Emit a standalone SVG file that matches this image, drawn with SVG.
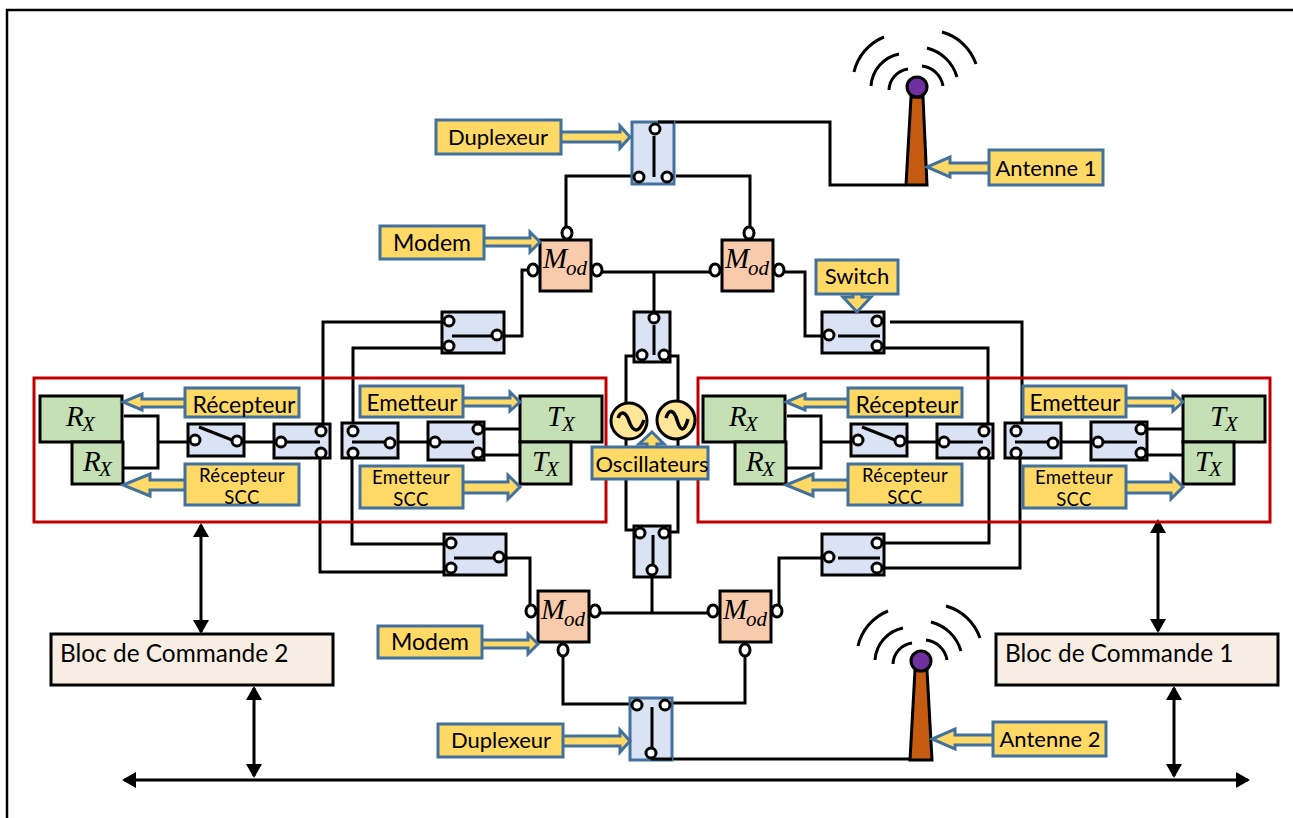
<svg xmlns="http://www.w3.org/2000/svg" width="1293" height="818" viewBox="0 0 1293 818">
<style>
text{font-family:Lato,"Open Sans",sans-serif;fill:#000;text-anchor:middle}
.l{font-size:22px}.r{font-size:23px}.e{font-size:22.5px}.mo{font-size:23px}.s{font-size:18.5px;letter-spacing:.35px}.b{font-size:24.4px;text-anchor:start}
.m{font-family:"Liberation Serif",serif;font-style:italic;text-anchor:start}
.m1{font-size:29px}.m2{font-size:21px}
.w{fill:none;stroke:#000;stroke-width:3}
.sin{fill:none;stroke:#000;stroke-width:3.5}
.sw{fill:#dae3f3;stroke:#000;stroke-width:3}
.dup{fill:#dae3f3;stroke:#41719c;stroke-width:3}
.c{fill:#fff;stroke:#000;stroke-width:3}
.lb{fill:#ffd966;stroke:#41719c;stroke-width:3}
.rx{fill:#c5e0b4;stroke:#000;stroke-width:3}
.mod{fill:#f8cbad;stroke:#000;stroke-width:3}
.bl{fill:#f8ede3;stroke:#000;stroke-width:3}
.red{fill:none;stroke:#c00000;stroke-width:3}
.osc{fill:#ffe699;stroke:#000;stroke-width:3}
.arc{fill:none;stroke:#000;stroke-width:3}
.tw{fill:#c55a11;stroke:#000;stroke-width:3}
.pu{fill:#7030a0;stroke:#000;stroke-width:3}
.ah{fill:none;stroke:#000;stroke-width:3;marker-start:url(#a);marker-end:url(#a)}
</style>
<defs>
<marker id="a" markerUnits="userSpaceOnUse" markerWidth="16" markerHeight="16" refX="12" refY="8" orient="auto-start-reverse"><path d="M0 0L14 8L0 16Z" fill="#000"/></marker>
<g id="antw"><path class="arc" d="M-9 -18A22 22 0 0 0 -28 3M-18 -33A35 35 0 0 0 -46 -1M-33 -50A50 50 0 0 0 -63 -15"/><path class="arc" d="M5 -21A24 24 0 0 1 26 -1M10 -39A42 42 0 0 1 40 -10M25 -55A50 50 0 0 1 59 -23"/></g>
</defs>
<rect x="7" y="10" width="1300" height="830" fill="#fff" stroke="#000" stroke-width="2.5"/>

<g id="connectors">
<path class="w" d="M674 122H830V185H905M632 176H566V229M676 176H750V229M602 272H710M654 272V312M785 272H805V336H822M528 270H522V336H504M442 322H323V424M442 348H353V424M444 544H352V458M444 572H320V458M506 558H530V605"/>
<path class="w" d="M890 322H1022V424M884 348H988V424M884 543H989V458M884 568H1020V458M822 558H779V605M634 356H626V404M670 356H678V403M626 438V530H634M678 438V532H670M652 577V613M600 613H708M563 656V704H630M745 656V703H672M672 759H910"/>
<path class="w" d="M124 416H158V468H123M158 442H188M244 442H274M398 442H428M484 429H520M484 455H520"/>
<path class="w" d="M787 416H821V468H786M821 442H851M907 442H937M1061 442H1091M1147 429H1183M1147 455H1183"/>
<path class="ah" d="M201 525V632"/><path class="ah" d="M254 688V776"/><path class="ah" d="M1158 521V631"/><path class="ah" d="M1174 688V776"/><path class="ah" d="M124 780H1248"/>
</g>

<g id="frame-left"><rect class="red" x="34" y="378" width="572" height="144"/></g>
<g id="frame-right"><rect class="red" x="698" y="378" width="572" height="144"/></g>

<g id="duplexeur-1"><rect class="dup" x="632" y="122" width="42" height="62"/><path class="w" d="M654 136V177M658 122H674"/><circle class="c" cx="655" cy="129" r="5"/><circle class="c" cx="639" cy="177" r="5"/><circle class="c" cx="667" cy="177" r="5"/></g>
<g id="duplexeur-2"><rect class="dup" x="630" y="698" width="42" height="62"/><path class="w" d="M652 707V753M651 759H672"/><circle class="c" cx="637" cy="705" r="5"/><circle class="c" cx="665" cy="705" r="5"/><circle class="c" cx="651" cy="753" r="5"/></g>

<g id="mod-1"><rect class="mod" x="540" y="240" width="51" height="51"/><text class="m m1" x="543" y="268">M</text><text class="m m2" x="566" y="275">od</text><ellipse class="c" cx="567" cy="233" rx="5" ry="6"/><ellipse class="c" cx="533" cy="270" rx="5" ry="6"/><ellipse class="c" cx="597" cy="270" rx="5" ry="6"/></g>
<g id="mod-2"><rect class="mod" x="722" y="240" width="51" height="51"/><text class="m m1" x="725" y="268">M</text><text class="m m2" x="748" y="275">od</text><ellipse class="c" cx="749" cy="233" rx="5" ry="6"/><ellipse class="c" cx="715" cy="270" rx="5" ry="6"/><ellipse class="c" cx="779" cy="270" rx="5" ry="6"/></g>
<g id="mod-3"><rect class="mod" x="538" y="591" width="51" height="51"/><text class="m m1" x="541" y="619">M</text><text class="m m2" x="564" y="626">od</text><ellipse class="c" cx="563" cy="650" rx="5" ry="6"/><ellipse class="c" cx="531" cy="611" rx="5" ry="6"/><ellipse class="c" cx="595" cy="611" rx="5" ry="6"/></g>
<g id="mod-4"><rect class="mod" x="720" y="591" width="51" height="51"/><text class="m m1" x="723" y="619">M</text><text class="m m2" x="746" y="626">od</text><ellipse class="c" cx="745" cy="650" rx="5" ry="6"/><ellipse class="c" cx="713" cy="611" rx="5" ry="6"/><ellipse class="c" cx="777" cy="611" rx="5" ry="6"/></g>

<g id="sw-top-left"><rect class="sw" x="442" y="312" width="62" height="41"/><path class="w" d="M452 336H492"/><circle class="c" cx="449" cy="321" r="5"/><circle class="c" cx="449" cy="346" r="5"/><circle class="c" cx="497" cy="335" r="5"/></g>
<g id="sw-bottom-left"><rect class="sw" x="444" y="534" width="62" height="41"/><path class="w" d="M454 558H494"/><circle class="c" cx="451" cy="543" r="5"/><circle class="c" cx="451" cy="568" r="5"/><circle class="c" cx="499" cy="557" r="5"/></g>
<g id="sw-top-right"><rect class="sw" x="822" y="312" width="62" height="41"/><path class="w" d="M838 336H880"/><circle class="c" cx="829" cy="335" r="5"/><circle class="c" cx="877" cy="321" r="5"/><circle class="c" cx="877" cy="346" r="5"/></g>
<g id="sw-bottom-right"><rect class="sw" x="822" y="534" width="62" height="41"/><path class="w" d="M838 558H880"/><circle class="c" cx="829" cy="557" r="5"/><circle class="c" cx="877" cy="543" r="5"/><circle class="c" cx="877" cy="568" r="5"/></g>
<g id="sw-osc-top"><rect class="sw" x="634" y="312" width="36" height="50"/><path class="w" d="M654 325V355"/><circle class="c" cx="654" cy="318" r="5"/><circle class="c" cx="642" cy="355" r="5"/><circle class="c" cx="664" cy="355" r="5"/></g>
<g id="sw-osc-bottom"><rect class="sw" x="634" y="526" width="36" height="51"/><path class="w" d="M653 535V570"/><circle class="c" cx="640" cy="533" r="5"/><circle class="c" cx="664" cy="533" r="5"/><circle class="c" cx="652" cy="570" r="5"/></g>

<g id="chain-left">
<g id="rx-a"><rect class="rx" x="40" y="396" width="82" height="46"/><text class="m m1" x="66" y="426">R</text><text class="m m2" x="82" y="431">X</text></g>
<g id="rx-b"><rect class="rx" x="72" y="442" width="51" height="42"/><text class="m m1" x="83" y="471">R</text><text class="m m2" x="99" y="476">X</text></g>
<g id="tx-a"><rect class="rx" x="520" y="396" width="82" height="46"/><text class="m m1" x="547" y="426">T</text><text class="m m2" x="562" y="431">X</text></g>
<g id="tx-b"><rect class="rx" x="520" y="442" width="51" height="42"/><text class="m m1" x="532" y="471">T</text><text class="m m2" x="546" y="476">X</text></g>
<g id="sw-l1"><rect class="sw" x="188" y="424" width="56" height="32"/><path class="w" d="M199 427L232 440"/><circle class="c" cx="195" cy="440" r="5"/><circle class="c" cx="237" cy="441" r="5"/></g>
<g id="sw-l2"><rect class="sw" x="274" y="424" width="56" height="34"/><path class="w" d="M285 442H320"/><circle class="c" cx="281" cy="442" r="5"/><circle class="c" cx="321" cy="431" r="5"/><circle class="c" cx="321" cy="453" r="5"/></g>
<g id="sw-l3"><rect class="sw" x="342" y="423" width="56" height="35"/><path class="w" d="M352 442H385"/><circle class="c" cx="353" cy="431" r="5"/><circle class="c" cx="353" cy="453" r="5"/><circle class="c" cx="390" cy="443" r="5"/></g>
<g id="sw-l4"><rect class="sw" x="428" y="422" width="56" height="38"/><path class="w" d="M440 442H474"/><circle class="c" cx="435" cy="442" r="5"/><circle class="c" cx="478" cy="429" r="5"/><circle class="c" cx="478" cy="453" r="5"/></g>
</g>
<g id="chain-right" transform="translate(663 0)">
<g id="rx-c"><rect class="rx" x="40" y="396" width="82" height="46"/><text class="m m1" x="66" y="426">R</text><text class="m m2" x="82" y="431">X</text></g>
<g id="rx-d"><rect class="rx" x="72" y="442" width="51" height="42"/><text class="m m1" x="83" y="471">R</text><text class="m m2" x="99" y="476">X</text></g>
<g id="tx-c"><rect class="rx" x="520" y="396" width="82" height="46"/><text class="m m1" x="547" y="426">T</text><text class="m m2" x="562" y="431">X</text></g>
<g id="tx-d"><rect class="rx" x="520" y="442" width="51" height="42"/><text class="m m1" x="532" y="471">T</text><text class="m m2" x="546" y="476">X</text></g>
<g id="sw-r1"><rect class="sw" x="188" y="424" width="56" height="32"/><path class="w" d="M199 427L232 440"/><circle class="c" cx="195" cy="440" r="5"/><circle class="c" cx="237" cy="441" r="5"/></g>
<g id="sw-r2"><rect class="sw" x="274" y="424" width="56" height="34"/><path class="w" d="M285 442H320"/><circle class="c" cx="281" cy="442" r="5"/><circle class="c" cx="321" cy="431" r="5"/><circle class="c" cx="321" cy="453" r="5"/></g>
<g id="sw-r3"><rect class="sw" x="342" y="423" width="56" height="35"/><path class="w" d="M352 442H385"/><circle class="c" cx="353" cy="431" r="5"/><circle class="c" cx="353" cy="453" r="5"/><circle class="c" cx="390" cy="443" r="5"/></g>
<g id="sw-r4"><rect class="sw" x="428" y="422" width="56" height="38"/><path class="w" d="M440 442H474"/><circle class="c" cx="435" cy="442" r="5"/><circle class="c" cx="478" cy="429" r="5"/><circle class="c" cx="478" cy="453" r="5"/></g>
</g>

<g id="oscillateur-1"><circle class="osc" cx="629" cy="421" r="18"/><path class="sin" d="M618 418C621 410 626 412 629 421S638 436 644 420"/></g>
<g id="oscillateur-2"><circle class="osc" cx="676" cy="420" r="19"/><path class="sin" d="M666 418C669 408 674 410 677 420S684 434 688 419"/></g>

<g id="antenne-1"><use href="#antw" x="917" y="87"/><path class="tw" d="M911 97H923L927 185H906Z"/><circle class="pu" cx="917" cy="87" r="10"/></g>
<g id="antenne-2"><use href="#antw" x="921" y="661"/><path class="tw" d="M915 670H927L932 760H910Z"/><circle class="pu" cx="921" cy="661" r="10"/></g>

<g id="lb-duplexeur-1"><path class="lb" d="M560 132H620V126L630 137L620 148V142H560Z"/><rect class="lb" x="436" y="120" width="125" height="34"/><text class="l" x="498" y="145">Duplexeur</text></g>
<g id="lb-duplexeur-2"><path class="lb" d="M560 736H620V730L630 741L620 752V746H560Z"/><rect class="lb" x="438" y="724" width="125" height="33"/><text class="l" x="501" y="748">Duplexeur</text></g>
<g id="lb-modem-1"><path class="lb" d="M483 238H530V232L540 242L530 252V246H483Z"/><rect class="lb" x="380" y="226" width="104" height="33"/><text class="mo" x="432" y="251">Modem</text></g>
<g id="lb-modem-2"><path class="lb" d="M481 640H528V634L538 644L528 654V648H481Z"/><rect class="lb" x="378" y="626" width="104" height="32"/><text class="mo" x="430" y="650">Modem</text></g>
<g id="lb-switch"><path class="lb" d="M853 293V297H843L857 312L871 297H862V293Z"/><rect class="lb" x="816" y="260" width="82" height="34"/><text class="l" x="857" y="284">Switch</text></g>
<g id="lb-antenne-1"><path class="lb" d="M992 163H950V157L927 167L950 177V173H992Z"/><rect class="lb" x="989" y="150" width="114" height="35"/><text class="l" x="1046" y="176">Antenne 1</text></g>
<g id="lb-antenne-2"><path class="lb" d="M995 735H955V729L932 739L955 749V745H995Z"/><rect class="lb" x="993" y="722" width="113" height="34"/><text class="l" x="1050" y="747">Antenne 2</text></g>
<g id="lb-oscillateurs"><path class="lb" d="M647 449V444H639L652 432L664 444H657V449Z"/><rect class="lb" x="592" y="447" width="116" height="32"/><text class="l" x="652" y="472">Oscillateurs</text></g>

<g id="lb-rec-l"><path class="lb" d="M186 399H142V394L123 402L142 410V407H186Z"/><rect class="lb" x="185" y="388" width="114" height="29"/><text class="r" x="244" y="413">Récepteur</text></g>
<g id="lb-recs-l"><path class="lb" d="M186 480H150V474L123 485L150 496V490H186Z"/><rect class="lb" x="185" y="464" width="114" height="41"/><text class="s" x="242" y="482">Récepteur</text><text class="s" x="242" y="504">SCC</text></g>
<g id="lb-em-l"><path class="lb" d="M462 398H510V392L520 402L510 411V406H462Z"/><rect class="lb" x="360" y="386" width="103" height="31"/><text class="e" x="412" y="411">Emetteur</text></g>
<g id="lb-ems-l"><path class="lb" d="M462 482H508V475L520 487L508 499V493H462Z"/><rect class="lb" x="360" y="466" width="103" height="42"/><text class="s" x="411" y="484">Emetteur</text><text class="s" x="411" y="506">SCC</text></g>
<g id="lb-rec-r" transform="translate(663 0)"><path class="lb" d="M186 399H142V394L123 402L142 410V407H186Z"/><rect class="lb" x="185" y="388" width="114" height="29"/><text class="r" x="244" y="413">Récepteur</text></g>
<g id="lb-recs-r" transform="translate(663 0)"><path class="lb" d="M186 480H150V474L123 485L150 496V490H186Z"/><rect class="lb" x="185" y="464" width="114" height="41"/><text class="s" x="242" y="482">Récepteur</text><text class="s" x="242" y="504">SCC</text></g>
<g id="lb-em-r" transform="translate(663 0)"><path class="lb" d="M462 398H510V392L520 402L510 411V406H462Z"/><rect class="lb" x="360" y="386" width="103" height="31"/><text class="e" x="412" y="411">Emetteur</text></g>
<g id="lb-ems-r" transform="translate(663 0)"><path class="lb" d="M462 482H508V475L520 487L508 499V493H462Z"/><rect class="lb" x="360" y="466" width="103" height="42"/><text class="s" x="411" y="484">Emetteur</text><text class="s" x="411" y="506">SCC</text></g>

<g id="bloc-2"><rect class="bl" x="51" y="634" width="282" height="51"/><text class="b" x="60" y="662">Bloc de Commande 2</text></g>
<g id="bloc-1"><rect class="bl" x="996" y="634" width="282" height="51"/><text class="b" x="1005" y="662">Bloc de Commande 1</text></g>
</svg>
